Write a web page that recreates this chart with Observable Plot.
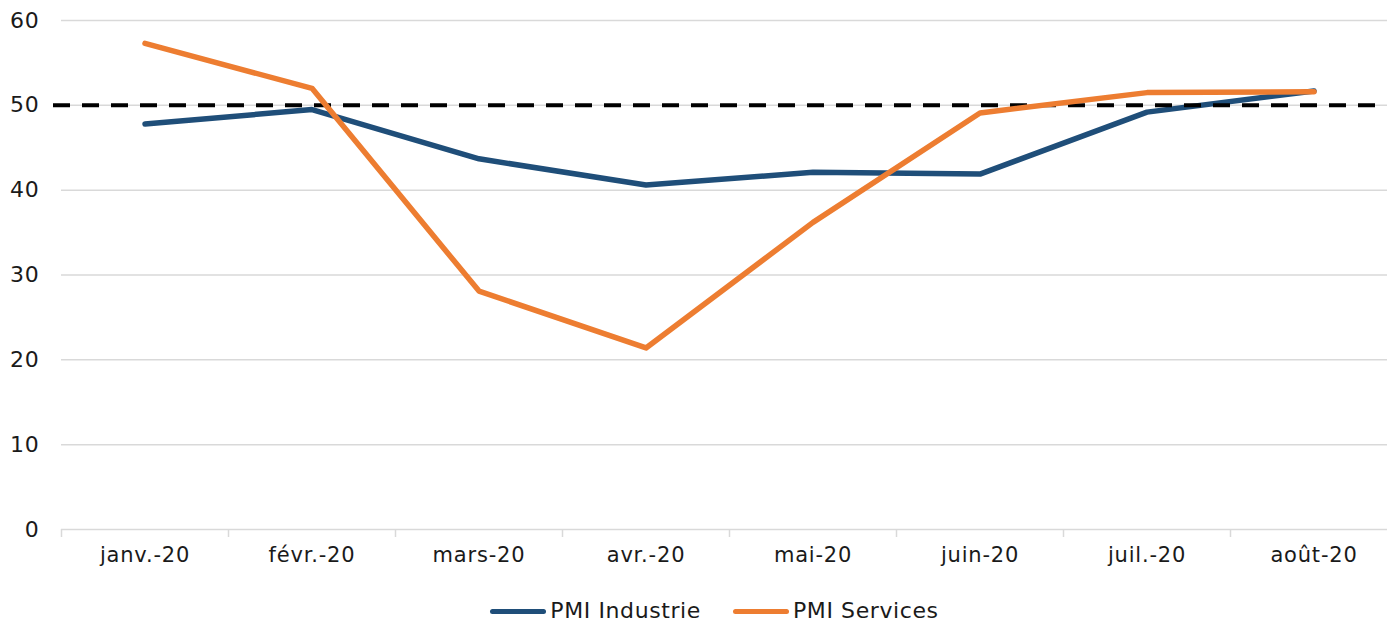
<!DOCTYPE html>
<html><head><meta charset="utf-8">
<script src="https://cdn.jsdelivr.net/npm/d3@7"></script>
<script src="https://cdn.jsdelivr.net/npm/@observablehq/plot@0.6"></script>
<style>
body{margin:0;background:#fff;font-family:"DejaVu Sans",sans-serif;}
#wrap{width:1387px;height:624px;overflow:hidden;position:relative;}
#chart svg{max-width:none !important;}
#chart svg text{letter-spacing:0.8px;}
#legend{position:absolute;left:21px;top:596px;width:1387px;display:flex;justify-content:center;gap:32px;font-size:22px;letter-spacing:0.6px;color:#1a1a1a;line-height:30px;}
.item{display:flex;align-items:center;gap:4px;}
.sw{width:56px;height:5px;border-radius:3px;}
</style></head><body>
<div id="wrap"><div id="chart"></div>
<div id="legend"></div></div>
<script>
const months = ["janv.-20","févr.-20","mars-20","avr.-20","mai-20","juin-20","juil.-20","août-20"];
const industrie = [47.8, 49.5, 43.7, 40.6, 42.1, 41.9, 49.2, 51.7];
const services = [57.3, 52.0, 28.1, 21.4, 36.2, 49.1, 51.5, 51.6];
const seriesNames = ["PMI Industrie", "PMI Services"];
const seriesColors = ["#1f4e79", "#ed7d31"];
const threshold = 50;
const yTicks = [0,10,20,30,40,50,60];

const dInd = months.map((m,i)=>({month:m, value:industrie[i]}));
const dSer = months.map((m,i)=>({month:m, value:services[i]}));

const W = 1397, ML = 61;
const bw = (W - ML) / months.length;

const chart = Plot.plot({
  width: W, height: 580,
  marginLeft: ML, marginRight: 0, marginTop: 20, marginBottom: 51,
  style: {fontFamily: "'DejaVu Sans', sans-serif", fontSize: "21px", color: "#1a1a1a", overflow: "visible"},
  x: {type: "band", domain: months, padding: 0, label: null},
  y: {domain: [0, 60], label: null},
  marks: [
    Plot.ruleY(yTicks, {stroke: "#d9d9d9", strokeWidth: 1.5}),
    Plot.axisY({ticks: yTicks, tickSize: 0, tickPadding: 22, fontSize: 22, label: null}),
    Plot.axisX({tickSize: 8, tickFormat: () => "", dx: -bw/2, stroke: "#d9d9d9", strokeWidth: 1.5, label: null}),
    Plot.axisX({tickSize: 0, tickPadding: 18, fontSize: 21, label: null}),
    Plot.line(dInd, {x: "month", y: "value", stroke: seriesColors[0], strokeWidth: 5.5, strokeLinecap: "round", strokeLinejoin: "round"}),
    Plot.ruleY([threshold], {stroke: "#000", strokeWidth: 4, strokeDasharray: "17,12", insetLeft: -8}),
    Plot.line(dSer, {x: "month", y: "value", stroke: seriesColors[1], strokeWidth: 5.5, strokeLinecap: "round", strokeLinejoin: "round"})
  ]
});
document.getElementById("chart").appendChild(chart);

const lg = document.getElementById("legend");
seriesNames.forEach((n,i)=>{
  const it = document.createElement("div"); it.className="item";
  const sw = document.createElement("div"); sw.className="sw"; sw.style.background=seriesColors[i];
  const t = document.createElement("span"); t.textContent=n;
  it.appendChild(sw); it.appendChild(t); lg.appendChild(it);
});
</script></body></html>
